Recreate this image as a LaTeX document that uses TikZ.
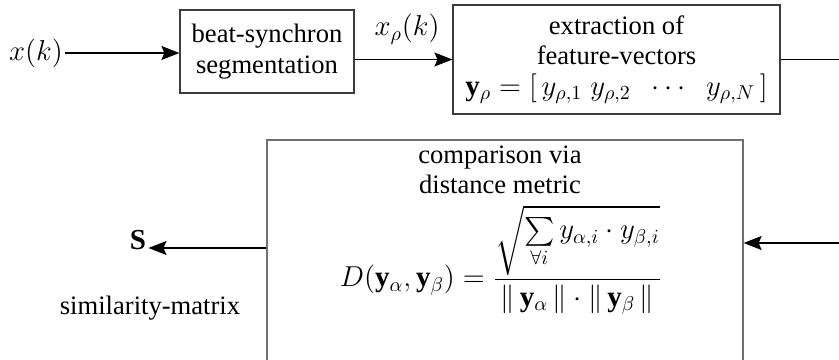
\documentclass[tikz,border=0pt]{standalone}
\usepackage{amsmath}
\usepackage{fontspec}
\setmainfont{Liberation Serif}
\usetikzlibrary{positioning,calc,arrows.meta}
\definecolor{bxgrey}{HTML}{3C3C3C}
\definecolor{bxgreyl}{HTML}{707070}
\newcommand{\bigmath}{\fontsize{14.5}{15.3}\selectfont}

\begin{document}
\begin{tikzpicture}[x=0.5pt, y=0.5pt, >=Stealth,
  font=\fontsize{13.3}{15.3}\selectfont,
  box/.style={draw=bxgrey, line width=0.6pt, align=center, inner sep=2pt},
  arr/.style={-{Stealth[length=9pt, width=7pt, inset=1.5pt]}, line width=0.6pt, draw=black},
  ln/.style={line width=0.6pt, draw=black},
  mth/.style={font=\bigmath, inner sep=1pt}]
  \clip (0,0) rectangle (839,359);
  % --- top row
  \node[mth] (xk) at (36,306) {$x(k)$};
  \node[box, minimum width=87pt, minimum height=41.5pt] (seg) at (267,307.5)
       {beat-synchron\\segmentation};
  \node[box, minimum width=163.5pt, minimum height=54.5pt] (ext) at (616.5,299.5)
       {extraction of\\feature-vectors\\
        {\bigmath $\mathbf{y}_{\rho}=[\,y_{\rho,1}\;y_{\rho,2}\;\;\cdots\;\;y_{\rho,N}\,]$}};
  \node[mth] (xrho) at (407,330) {$x_{\rho}(k)$};
  \coordinate (out) at (839,0);
  % --- comparison block (runs off the bottom)
  \node[box, draw=bxgreyl, minimum width=238pt, minimum height=129.5pt] (cmp) at (505,89.5) {};
  \node (cmpt) at (500,189) [align=center, inner sep=1pt] {comparison via\\distance metric};
  \node[mth, inner sep=0pt] (dist) at (501,99)
       {$\displaystyle D(\mathbf{y}_{\alpha},\mathbf{y}_{\beta})
         =\frac{\sqrt{\sum\limits_{\forall i} y_{\alpha,i}\cdot y_{\beta,i}}}
                {\|\,\mathbf{y}_{\alpha}\,\|\cdot\|\,\mathbf{y}_{\beta}\,\|}$};
  \coordinate (in) at (839,116);
  \node[mth] (S) at (138,119) {$\mathbf{S}$};
  \node (sim) at (150,51) {similarity-matrix};
  \draw[arr] (xk) -- (seg.west |- xk);
  \draw[arr] (seg.east |- ext.west) -- (ext.west);
  \draw[ln]  (ext.east) -- (ext.east -| out);
  \draw[arr] (in) -- (cmp.east |- in);
  \draw[arr] ([yshift=-4pt]cmp.west |- S) -- ([yshift=-4pt]S.east);
\end{tikzpicture}
\end{document}
